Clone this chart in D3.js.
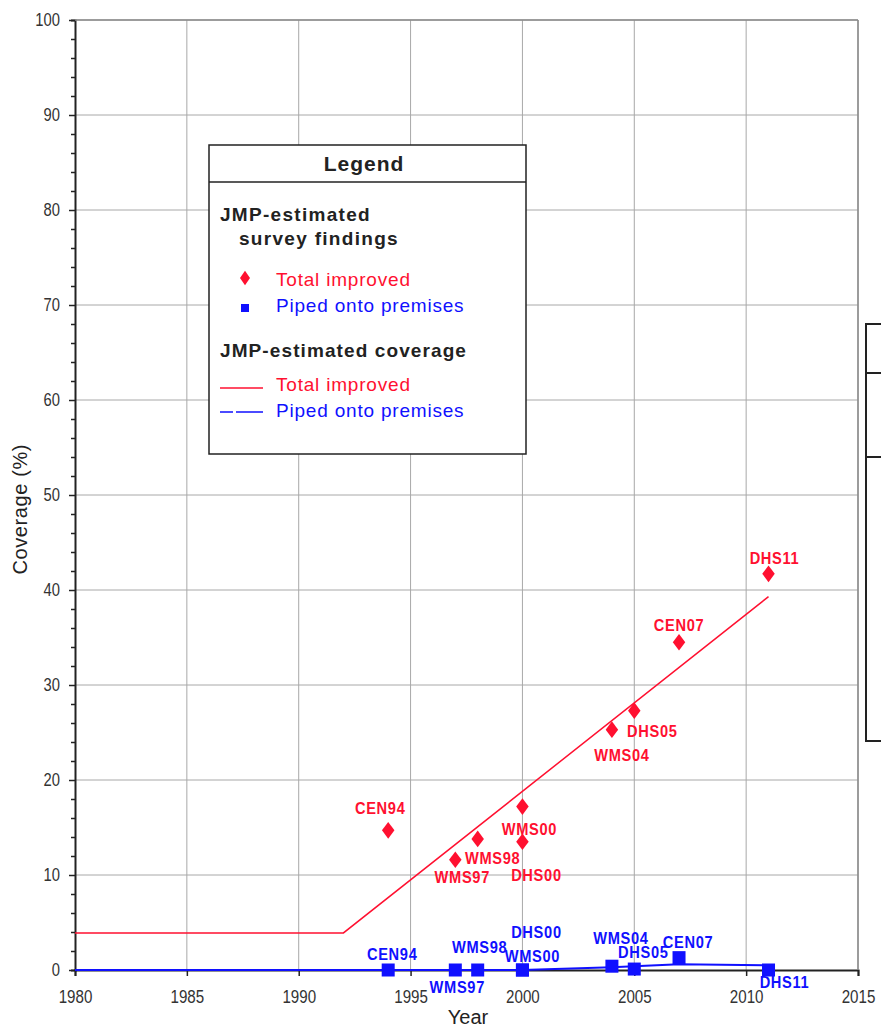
<!DOCTYPE html>
<html>
<head>
<meta charset="utf-8">
<script src="https://cdn.jsdelivr.net/npm/d3@7"></script>
<style>
  html, body { margin: 0; padding: 0; background: #fff; }
  svg { display: block; font-family: Arial, "Liberation Sans", sans-serif; }
</style>
</head>
<body>
<svg id="chart" width="881" height="1027"></svg>
<script>
// Survey findings: total improved (diamonds)
const totalSurveys = ["CEN94", "WMS97", "WMS98", "WMS00", "DHS00", "WMS04", "DHS05", "CEN07", "DHS11"];
const totalYears   = [1994, 1997, 1998, 2000, 2000, 2004, 2005, 2007, 2011];
const totalValues  = [14.7, 11.6, 13.8, 17.2, 13.5, 25.3, 27.3, 34.5, 41.7];

// Survey findings: piped onto premises (squares)
const pipedSurveys = ["CEN94", "WMS97", "WMS98", "WMS00", "DHS00", "WMS04", "DHS05", "CEN07", "DHS11"];
const pipedYears   = [1994, 1997, 1998, 2000, 2000, 2004, 2005, 2007, 2011];
const pipedValues  = [0.0, 0.0, 0.0, 0.0, 0.0, 0.4, 0.1, 1.3, 0.0];

// Estimated coverage lines
const totalLineYears  = [1980, 1992, 2011];
const totalLineValues = [3.9, 3.9, 39.3];
const pipedLineYears  = [1980, 2000, 2004, 2007, 2011];
const pipedLineValues = [0.0, 0.0, 0.3, 0.6, 0.5];

const xTicks = [1980, 1985, 1990, 1995, 2000, 2005, 2010, 2015];
const yTicks = [0, 10, 20, 30, 40, 50, 60, 70, 80, 90, 100];

const RED = "#ff1030";
const BLUE = "#1010ff";

const svg = d3.select("#chart");
const x = d3.scaleLinear().domain([1980, 2015]).range([75, 858]);
const y = d3.scaleLinear().domain([0, 100]).range([970, 20]);

// squeeze a text horizontally to a fraction of its natural width
function condense(sel, f) {
  sel.each(function () {
    const w = this.getComputedTextLength();
    if (w > 0) {
      d3.select(this).attr("textLength", w * f).attr("lengthAdjust", "spacingAndGlyphs");
    }
  });
}

// grid
const grid = svg.append("g");
grid.selectAll("line.gx").data(xTicks.slice(1)).join("line")
  .attr("x1", d => x(d)).attr("x2", d => x(d)).attr("y1", y(100)).attr("y2", y(0))
  .attr("stroke", "#a8a8a8").attr("stroke-width", 1);
grid.selectAll("line.gy").data(yTicks.slice(1)).join("line")
  .attr("x1", x(1980)).attr("x2", x(2015)).attr("y1", d => y(d)).attr("y2", d => y(d))
  .attr("stroke", "#a8a8a8").attr("stroke-width", 1);

// axes
const yAxis = d3.axisLeft(y).tickValues(d3.range(0, 101, 2)).tickSize(4)
  .tickFormat(d => d % 10 === 0 ? d : "");
const gy = svg.append("g").attr("transform", `translate(${x(1980)},0)`).call(yAxis);
gy.select(".domain").attr("stroke", "#222").attr("stroke-width", 2);
gy.selectAll(".tick line").attr("stroke", "#222").attr("stroke-width", 1.5)
  .attr("x2", d => d % 10 === 0 ? -6 : -4);
gy.selectAll(".tick text").attr("font-size", 18).attr("fill", "#333")
  .attr("x", -15).attr("font-family", "Arial, 'Liberation Sans', sans-serif").call(condense, 0.82);

const xAxis = d3.axisBottom(x).tickValues(xTicks).tickSize(6).tickFormat(d3.format("d"));
const gx = svg.append("g").attr("transform", `translate(0,${y(0)})`).call(xAxis);
gx.select(".domain").attr("stroke", "#222").attr("stroke-width", 2);
gx.selectAll(".tick line").attr("stroke", "#222").attr("stroke-width", 1.5);
gx.selectAll(".tick text").attr("font-size", 18).attr("fill", "#333").attr("y", 33).attr("dy", 0)
  .attr("font-family", "Arial, 'Liberation Sans', sans-serif").call(condense, 0.84);

// frame top / right
svg.append("line").attr("x1", x(1980)).attr("x2", x(2015)).attr("y1", y(100)).attr("y2", y(100))
  .attr("stroke", "#8a8a8a").attr("stroke-width", 1.5);
svg.append("line").attr("x1", x(2015)).attr("x2", x(2015)).attr("y1", y(100)).attr("y2", y(0))
  .attr("stroke", "#8a8a8a").attr("stroke-width", 1.5);

// axis titles
svg.append("text").attr("transform", `translate(27,${y(48.5)}) rotate(-90)`)
  .attr("text-anchor", "middle").attr("font-size", 20).attr("fill", "#222")
  .attr("letter-spacing", 0.6).text("Coverage (%)");
svg.append("text").attr("x", 468).attr("y", 1024).attr("text-anchor", "middle")
  .attr("font-size", 20).attr("fill", "#222").text("Year");

// coverage lines
const line = d3.line().x(d => x(d[0])).y(d => y(d[1]));
svg.append("path").datum(d3.zip(pipedLineYears, pipedLineValues)).attr("d", line)
  .attr("fill", "none").attr("stroke", BLUE).attr("stroke-width", 2);
svg.append("path").datum(d3.zip(totalLineYears, totalLineValues)).attr("d", line)
  .attr("fill", "none").attr("stroke", RED).attr("stroke-width", 1.5);

// markers
const diamond = d3.symbol().type(d3.symbolDiamond).size(80);
svg.append("g").selectAll("path").data(d3.range(totalYears.length)).join("path")
  .attr("d", diamond)
  .attr("transform", i => `translate(${x(totalYears[i])},${y(totalValues[i])}) scale(1.3,1)`)
  .attr("fill", RED);
svg.append("g").selectAll("rect").data(d3.range(pipedYears.length)).join("rect")
  .attr("x", i => x(pipedYears[i]) - 6.5).attr("y", i => y(pipedValues[i]) - 6.5)
  .attr("width", 13).attr("height", 13).attr("fill", BLUE);

// label offsets per survey (dx of text centre, dy of baseline)
const totalLabelPos = {
  CEN94: [-8, -16], WMS97: [7, 23], WMS98: [15, 25],
  WMS00: [7, 28], DHS00: [14, 39], WMS04: [10, 31],
  DHS05: [18, 26], CEN07: [0, -11], DHS11: [6, -10]
};
const pipedLabelPos = {
  CEN94: [4, -10], WMS97: [2, 23], WMS98: [2, -17],
  WMS00: [10, -8], DHS00: [14, -32], WMS04: [9, -22],
  DHS05: [9, -11], CEN07: [9, -10], DHS11: [16, 18]
};

const labelFont = "Arial, 'Liberation Sans', sans-serif";
svg.append("g").selectAll("text").data(d3.range(totalSurveys.length)).join("text")
  .attr("x", i => x(totalYears[i]) + totalLabelPos[totalSurveys[i]][0])
  .attr("y", i => y(totalValues[i]) + totalLabelPos[totalSurveys[i]][1])
  .attr("text-anchor", "middle")
  .attr("font-size", 17).attr("font-weight", "bold").attr("fill", RED)
  .attr("font-family", labelFont).attr("letter-spacing", 0.8)
  .text(i => totalSurveys[i]).call(condense, 0.86);
svg.append("g").selectAll("text").data(d3.range(pipedSurveys.length)).join("text")
  .attr("x", i => x(pipedYears[i]) + pipedLabelPos[pipedSurveys[i]][0])
  .attr("y", i => y(pipedValues[i]) + pipedLabelPos[pipedSurveys[i]][1])
  .attr("text-anchor", "middle")
  .attr("font-size", 17).attr("font-weight", "bold").attr("fill", BLUE)
  .attr("font-family", labelFont).attr("letter-spacing", 0.8)
  .text(i => pipedSurveys[i]).call(condense, 0.86);

// legend box
const lg = svg.append("g");
lg.append("rect").attr("x", 209).attr("y", 145).attr("width", 317).attr("height", 309)
  .attr("fill", "#fff").attr("stroke", "#222").attr("stroke-width", 1.5);
lg.append("line").attr("x1", 209).attr("x2", 526).attr("y1", 182).attr("y2", 182)
  .attr("stroke", "#222").attr("stroke-width", 1.5);
lg.append("text").attr("x", 364).attr("y", 171).attr("text-anchor", "middle")
  .attr("font-size", 21).attr("font-weight", "bold").attr("fill", "#222")
  .attr("letter-spacing", 1).text("Legend");
lg.append("text").attr("x", 220).attr("y", 221).attr("font-size", 19).attr("font-weight", "bold")
  .attr("fill", "#222").attr("letter-spacing", 1.3).text("JMP-estimated");
lg.append("text").attr("x", 239).attr("y", 245).attr("font-size", 19).attr("font-weight", "bold")
  .attr("fill", "#222").attr("letter-spacing", 1.3).text("survey findings");
lg.append("path").attr("d", d3.symbol().type(d3.symbolDiamond).size(60))
  .attr("transform", "translate(245,278) scale(1.2,1)").attr("fill", RED);
lg.append("text").attr("x", 276).attr("y", 286).attr("font-size", 19).attr("fill", RED)
  .attr("letter-spacing", 0.8).text("Total improved");
lg.append("rect").attr("x", 241).attr("y", 304).attr("width", 8).attr("height", 8).attr("fill", BLUE);
lg.append("text").attr("x", 276).attr("y", 312).attr("font-size", 19).attr("fill", BLUE)
  .attr("letter-spacing", 0.8).text("Piped onto premises");
lg.append("text").attr("x", 220).attr("y", 357).attr("font-size", 19).attr("font-weight", "bold")
  .attr("fill", "#222").attr("letter-spacing", 1.1).text("JMP-estimated coverage");
lg.append("line").attr("x1", 220).attr("x2", 263).attr("y1", 388).attr("y2", 388)
  .attr("stroke", RED).attr("stroke-width", 1.5);
lg.append("text").attr("x", 276).attr("y", 391).attr("font-size", 19).attr("fill", RED)
  .attr("letter-spacing", 0.8).text("Total improved");
lg.append("line").attr("x1", 220).attr("x2", 263).attr("y1", 412).attr("y2", 412)
  .attr("stroke", BLUE).attr("stroke-width", 1.5).attr("stroke-dasharray", "13,3,27");
lg.append("text").attr("x", 276).attr("y", 417).attr("font-size", 19).attr("fill", BLUE)
  .attr("letter-spacing", 0.8).text("Piped onto premises");

// second panel, clipped at the right edge
const rp = svg.append("g");
rp.append("rect").attr("x", 866).attr("y", 324).attr("width", 30).attr("height", 417)
  .attr("fill", "#fff").attr("stroke", "#222").attr("stroke-width", 2);
rp.append("line").attr("x1", 866).attr("x2", 881).attr("y1", 373).attr("y2", 373)
  .attr("stroke", "#222").attr("stroke-width", 2);
rp.append("line").attr("x1", 866).attr("x2", 881).attr("y1", 457).attr("y2", 457)
  .attr("stroke", "#222").attr("stroke-width", 2);
</script>
</body>
</html>
